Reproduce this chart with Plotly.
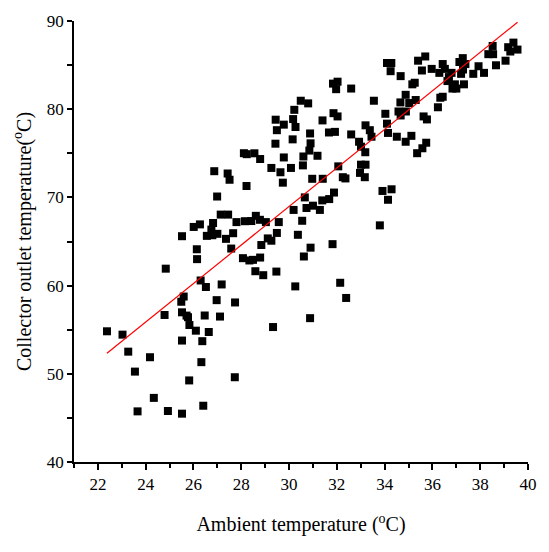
import plotly.graph_objects as go
import numpy as np

# Ambient temperature (°C) and collector outlet temperature (°C)
ambient = [
    22.38, 23.03, 23.27, 23.55, 23.66, 24.18, 24.34, 24.79, 24.84, 24.93,
    25.52, 25.52, 25.52, 25.49, 25.59, 25.52, 25.71, 25.77, 25.83, 25.82,
    26.10, 26.14, 26.15, 26.30, 26.33, 26.37, 26.41, 26.47, 26.52, 26.64,
    26.97, 27.11, 27.18, 27.73, 27.74, 29.33,
    26.56, 26.79, 27.00, 27.36, 27.58, 27.66, 28.07, 28.34, 28.49, 28.59,
    28.79, 28.84, 28.92, 29.11, 29.26, 29.47, 29.49, 30.26, 30.37, 30.62,
    30.90, 30.88, 31.82, 32.14, 32.39, 26.01, 26.27, 26.82, 26.75, 27.14,
    27.45, 27.80, 28.15, 28.42, 28.61, 28.78, 29.03, 29.57, 30.55, 30.19,
    30.73, 31.00, 31.29, 31.39, 31.68, 31.88, 30.66, 33.80, 33.91, 34.29,
    34.14, 26.99, 28.22, 29.74, 30.97, 31.41, 32.25, 32.36, 33.17, 32.97,
    27.51, 26.87, 27.43,
    29.44, 30.17, 31.40, 29.78, 30.27, 29.49, 34.10, 34.14, 33.20, 33.38,
    33.45, 31.67, 31.92, 32.60, 30.88, 30.15, 30.90, 29.43, 32.93, 33.01,
    33.19, 30.85, 31.19, 29.78, 30.60, 28.11, 28.23, 28.55, 28.79, 30.58,
    30.08, 29.26, 29.64, 32.06, 33.01, 33.20, 31.84, 32.03, 31.97, 32.60,
    33.55, 30.49, 30.80, 30.22, 31.86, 32.03, 34.03, 34.10, 34.28, 34.25,
    39.39, 39.17, 39.26, 39.56, 38.52, 38.34, 38.54, 38.66, 39.06, 37.93,
    38.16, 37.71, 37.27, 37.13, 37.38, 37.28, 37.20, 36.43, 36.52, 36.29,
    36.80, 36.69, 36.63, 37.32, 36.94, 36.84, 37.00, 35.70, 35.40, 35.56,
    35.97, 34.67, 35.16, 35.26, 34.88, 34.66, 35.03, 35.30, 34.58, 34.67,
    34.89, 36.43, 36.33, 36.23, 34.51, 34.88, 35.12, 35.74, 35.58, 35.36,
    35.63, 35.77,
]
outlet = [
    54.82, 54.44, 52.51, 50.25, 45.74, 51.88, 47.27, 56.67, 61.92, 45.78,
    45.48, 53.77, 56.97, 58.17, 58.76, 65.60, 56.60, 56.42, 55.53, 49.25,
    54.89, 64.12, 63.00, 60.58, 51.32, 53.70, 46.38, 56.61, 59.84, 54.74,
    58.35, 56.49, 60.13, 49.61, 58.09, 55.30,
    65.64, 65.71, 65.87, 65.30, 64.20, 65.94, 63.11, 62.85, 62.92, 61.63,
    63.18, 64.60, 61.18, 65.35, 65.09, 61.59, 65.97, 59.91, 65.76, 63.30,
    64.30, 56.31, 64.70, 60.32, 58.60, 66.65, 66.94, 67.10, 66.35, 68.05,
    68.05, 67.20, 67.30, 67.32, 67.91, 67.46, 67.20, 67.20, 67.35, 68.58,
    68.80, 69.06, 68.58, 69.66, 69.81, 70.55, 70.00, 66.83, 70.73, 70.92,
    69.73, 70.10, 71.29, 71.67, 72.11, 72.11, 72.29, 72.15, 72.29, 72.78,
    72.00, 72.97, 72.71,
    78.81, 78.88, 78.73, 78.25, 77.98, 77.62, 78.36, 77.31, 78.17, 77.62,
    76.88, 77.36, 77.43, 77.14, 77.25, 76.58, 76.13, 76.09, 76.31, 75.75,
    75.12, 75.31, 74.72, 74.53, 74.64, 75.01, 74.90, 75.00, 74.35, 73.63,
    73.34, 73.34, 72.85, 73.52, 73.71, 73.71, 82.90, 83.12, 82.27, 82.34,
    80.96, 80.96, 80.66, 79.93, 79.55, 79.18, 79.48, 85.24, 85.24, 84.31,
    87.55, 87.03, 86.54, 86.76, 87.17, 86.24, 86.24, 84.98, 85.50, 84.87,
    84.12, 84.01, 85.79, 85.35, 85.12, 84.50, 84.01, 85.12, 84.57, 84.12,
    84.12, 83.64, 83.19, 82.82, 82.82, 82.34, 82.34, 85.98, 85.50, 84.39,
    84.57, 83.75, 82.82, 83.00, 81.63, 80.77, 80.70, 81.04, 79.74, 79.29,
    79.74, 81.41, 81.30, 80.22, 76.88, 76.31, 76.98, 76.20, 75.57, 75.01,
    79.18, 78.84,
]

# Linear fit
fit_slope = 2.185
fit_intercept = 3.42

x_ticks = [22, 24, 26, 28, 30, 32, 34, 36, 38, 40]
y_ticks = [40, 50, 60, 70, 80, 90]

fit_x = np.array([min(ambient), max(ambient)])
fit_y = fit_slope * fit_x + fit_intercept

font_family = "Liberation Serif, Times New Roman, serif"

fig = go.Figure()
fig.add_trace(go.Scatter(
    x=ambient, y=outlet, mode="markers",
    marker=dict(symbol="square", size=8, color="black"),
    showlegend=False,
))
fig.add_trace(go.Scatter(
    x=fit_x, y=fit_y, mode="lines",
    line=dict(color="#ff0000", width=1.2),
    showlegend=False,
))

fig.update_layout(
    width=549, height=552,
    margin=dict(l=74, r=12, t=14, b=90),
    paper_bgcolor="white", plot_bgcolor="white",
    font=dict(family=font_family, size=17, color="black"),
)
fig.update_xaxes(
    range=[21, 40], tickvals=x_ticks, ticktext=[str(v) for v in x_ticks],
    showline=True, linecolor="black", linewidth=1.5, mirror=False,
    ticks="outside", ticklen=6, tickwidth=1.5, tickcolor="black",
    minor=dict(dtick=1, ticks="outside", ticklen=4, tickwidth=1.5, tickcolor="black"),
    showgrid=False, zeroline=False,
    tickfont=dict(size=17, family=font_family),
    title=dict(text="Ambient temperature (<sup>o</sup>C)", font=dict(size=20, family=font_family), standoff=24),
)
fig.update_yaxes(
    range=[40, 90], tickvals=y_ticks, ticktext=[str(v) for v in y_ticks],
    showline=True, linecolor="black", linewidth=1.5, mirror=False,
    ticks="outside", ticklen=5, tickwidth=1.5, tickcolor="black",
    minor=dict(dtick=5, ticks="outside", ticklen=5, tickwidth=1.5, tickcolor="black"),
    showgrid=False, zeroline=False,
    tickfont=dict(size=17, family=font_family),
    title=dict(text="Collector outlet temperature(<sup>o</sup>C)", font=dict(size=20, family=font_family), standoff=10),
)

fig.write_html("out.html")
